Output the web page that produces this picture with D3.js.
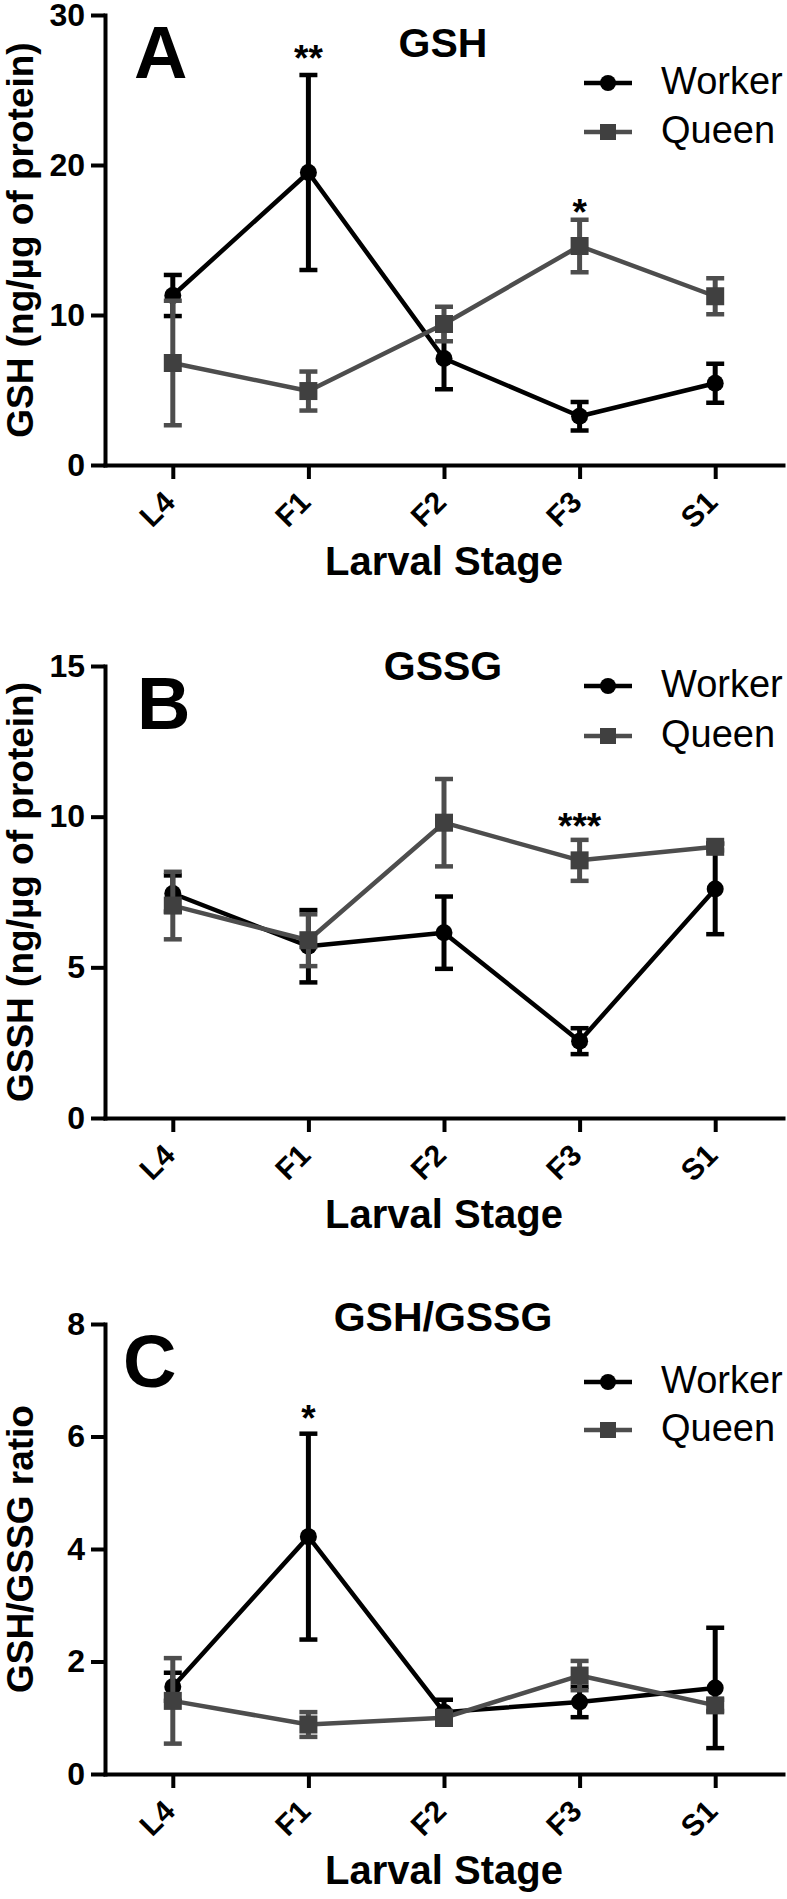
<!DOCTYPE html>
<html>
<head>
<meta charset="utf-8">
<script src="https://cdn.jsdelivr.net/npm/d3@7"></script>
<style>
  html, body { margin: 0; padding: 0; background: #fff; }
  svg { display: block; }
  text { font-family: "Liberation Sans", Arial, Helvetica, sans-serif; fill: #000; }
</style>
</head>
<body>
<div id="chart"></div>
<script>
// ---------------- data ----------------
const stages = ["L4", "F1", "F2", "F3", "S1"];
const seriesNames = ["Worker", "Queen"];

// Panel A: GSH (ng/µg of protein)
const gshWorker    = [11.3, 19.5, 7.1, 3.25, 5.45];
const gshWorkerErr = [1.37, 6.5, 2.05, 0.95, 1.3];
const gshQueen     = [6.8, 4.93, 9.4, 14.6, 11.25];
const gshQueenErr  = [4.15, 1.3, 1.15, 1.75, 1.2];
const gshTicks     = [0, 10, 20, 30];

// Panel B: GSSG
const gssgWorker    = [7.45, 5.7, 6.15, 2.55, 7.6];
const gssgWorkerErr = [0.6, 1.2, 1.2, 0.43, 1.5];
const gssgQueen     = [7.05, 5.9, 9.8, 8.55, 9.0];
const gssgQueenErr  = [1.12, 0.86, 1.45, 0.68, 0.12];
const gssgTicks     = [0, 5, 10, 15];

// Panel C: GSH/GSSG ratio
const ratioWorker    = [1.55, 4.22, 1.1, 1.28, 1.53];
const ratioWorkerErr = [0.25, 1.83, 0.22, 0.27, 1.07];
const ratioQueen     = [1.3, 0.88, 1.0, 1.75, 1.22];
const ratioQueenErr  = [0.76, 0.22, 0.08, 0.26, 0.1];
const ratioTicks     = [0, 2, 4, 6, 8];

// significance marks: [stage, label, value at text baseline]
const gshStars   = [["F1", "**", 26.3], ["F3", "*", 16.0]];
const gssgStars  = [["F3", "***", 9.25]];
const ratioStars = [["F1", "*", 6.1]];

const panelLetters = ["A", "B", "C"];
const panelTitles  = ["GSH", "GSSG", "GSH/GSSG"];
const yTitles      = ["GSH (ng/\u00b5g of protein)", "GSSH (ng/\u00b5g of protein)", "GSH/GSSG ratio"];
const xTitle       = "Larval Stage";

// ---------------- layout ----------------
const W = 787, H = 1899;
const FONT = '"Liberation Sans", Arial, Helvetica, sans-serif';
const workerColor = "#000000";
const queenColor = "#4d4d4d";
const queenFill = "#404040";

const panels = [
  { worker: gshWorker, workerErr: gshWorkerErr, queen: gshQueen, queenErr: gshQueenErr,
    ticks: gshTicks, stars: gshStars, top: 15, bottom: 465,
    titleY: 57, letterX: 134, legendY: [83, 132] },
  { worker: gssgWorker, workerErr: gssgWorkerErr, queen: gssgQueen, queenErr: gssgQueenErr,
    ticks: gssgTicks, stars: gssgStars, top: 666, bottom: 1118,
    titleY: 680, letterX: 137, legendY: [686, 736] },
  { worker: ratioWorker, workerErr: ratioWorkerErr, queen: ratioQueen, queenErr: ratioQueenErr,
    ticks: ratioTicks, stars: ratioStars, top: 1324, bottom: 1774,
    titleY: 1331, letterX: 123, legendY: [1382, 1430] }
];

const xLeft = 105, xRight = 783;

const svg = d3.select("#chart").append("svg")
  .attr("width", W).attr("height", H)
  .attr("viewBox", `0 0 ${W} ${H}`);

const x = d3.scalePoint().domain(stages).range([xLeft, xRight]).padding(0.5);

panels.forEach((p, pi) => {
  const g = svg.append("g");
  const y = d3.scaleLinear()
    .domain([p.ticks[0], p.ticks[p.ticks.length - 1]])
    .range([p.bottom, p.top]);

  // y axis
  const yAxis = d3.axisLeft(y).tickValues(p.ticks).tickSize(14).tickSizeOuter(0).tickPadding(6);
  const yg = g.append("g").attr("transform", `translate(${xLeft},0)`).call(yAxis);
  yg.select(".domain").attr("stroke", "#000").attr("stroke-width", 4).attr("stroke-linecap", "square");
  yg.selectAll(".tick line").attr("stroke", "#000").attr("stroke-width", 4);
  yg.selectAll(".tick text").attr("font-family", FONT).attr("font-size", 32)
    .attr("font-weight", "bold").attr("fill", "#000");

  // x axis
  const xAxis = d3.axisBottom(x).tickSize(14).tickSizeOuter(0).tickFormat("");
  const xg = g.append("g").attr("transform", `translate(0,${p.bottom})`).call(xAxis);
  xg.select(".domain").attr("stroke", "#000").attr("stroke-width", 4).attr("stroke-linecap", "square");
  xg.selectAll(".tick line").attr("stroke", "#000").attr("stroke-width", 4);
  // rotated tick labels
  g.selectAll(".xlab").data(stages).enter().append("text")
    .attr("class", "xlab")
    .attr("transform", d => `translate(${x(d) + 4},${p.bottom + 39}) rotate(-45)`)
    .attr("text-anchor", "end")
    .attr("font-family", FONT).attr("font-size", 30).attr("font-weight", "bold")
    .text(d => d);

  // axis titles
  g.append("text")
    .attr("x", (xLeft + xRight) / 2).attr("y", p.bottom + 110)
    .attr("text-anchor", "middle")
    .attr("font-family", FONT).attr("font-size", 40).attr("font-weight", "bold")
    .text(xTitle);
  g.append("text")
    .attr("transform", `translate(33,${(p.top + p.bottom) / 2}) rotate(-90)`)
    .attr("text-anchor", "middle")
    .attr("font-family", FONT).attr("font-size", 37).attr("font-weight", "bold")
    .text(yTitles[pi]);

  // panel title & letter
  g.append("text")
    .attr("x", 443).attr("y", p.titleY)
    .attr("text-anchor", "middle")
    .attr("font-family", FONT).attr("font-size", 41).attr("font-weight", "bold")
    .text(panelTitles[pi]);
  g.append("text")
    .attr("x", p.letterX).attr("y", p.top + 63)
    .attr("font-family", FONT).attr("font-size", 74).attr("font-weight", "bold")
    .text(panelLetters[pi]);

  // series
  const series = [
    { name: seriesNames[0], vals: p.worker, errs: p.workerErr, color: workerColor, fill: workerColor, shape: "circle" },
    { name: seriesNames[1], vals: p.queen, errs: p.queenErr, color: queenColor, fill: queenFill, shape: "square" }
  ];

  const line = d3.line().x((d, i) => x(stages[i])).y(d => y(d));

  series.forEach(s => {
    const sg = g.append("g");
    const pts = s.vals.map((v, i) => ({ stage: stages[i], v, e: s.errs[i] }));
    // error bars
    const eb = sg.selectAll(".eb").data(pts).enter().append("g");
    eb.append("line")
      .attr("x1", d => x(d.stage)).attr("x2", d => x(d.stage))
      .attr("y1", d => y(d.v + d.e)).attr("y2", d => y(d.v - d.e))
      .attr("stroke", s.color).attr("stroke-width", 5);
    [1, -1].forEach(sign => {
      eb.append("line")
        .attr("x1", d => x(d.stage) - 9).attr("x2", d => x(d.stage) + 9)
        .attr("y1", d => y(d.v + sign * d.e)).attr("y2", d => y(d.v + sign * d.e))
        .attr("stroke", s.color).attr("stroke-width", 4.5);
    });
    // connecting line
    sg.append("path").datum(s.vals)
      .attr("d", line).attr("fill", "none")
      .attr("stroke", s.color).attr("stroke-width", 4.5).attr("stroke-linejoin", "round");
    // markers
    if (s.shape === "circle") {
      sg.selectAll(".mk").data(pts).enter().append("circle")
        .attr("cx", d => x(d.stage)).attr("cy", d => y(d.v)).attr("r", 8.5)
        .attr("fill", s.fill);
    } else {
      sg.selectAll(".mk").data(pts).enter().append("rect")
        .attr("x", d => x(d.stage) - 9).attr("y", d => y(d.v) - 9)
        .attr("width", 18).attr("height", 18)
        .attr("fill", s.fill);
    }
  });

  // significance stars
  g.selectAll(".star").data(p.stars).enter().append("text")
    .attr("x", d => x(d[0])).attr("y", d => y(d[2]))
    .attr("text-anchor", "middle")
    .attr("font-family", FONT).attr("font-size", 37).attr("font-weight", "bold")
    .text(d => d[1]);

  // legend
  series.forEach((s, si) => {
    const ly = p.legendY[si];
    g.append("line").attr("x1", 584).attr("x2", 632).attr("y1", ly).attr("y2", ly)
      .attr("stroke", s.color).attr("stroke-width", 4.5);
    if (s.shape === "circle") {
      g.append("circle").attr("cx", 608).attr("cy", ly).attr("r", 8).attr("fill", s.fill);
    } else {
      g.append("rect").attr("x", 600).attr("y", ly - 8).attr("width", 16).attr("height", 16).attr("fill", s.fill);
    }
    g.append("text").attr("x", 661).attr("y", ly + 11)
      .attr("font-family", FONT).attr("font-size", 38)
      .text(s.name);
  });
});
</script>
</body>
</html>
